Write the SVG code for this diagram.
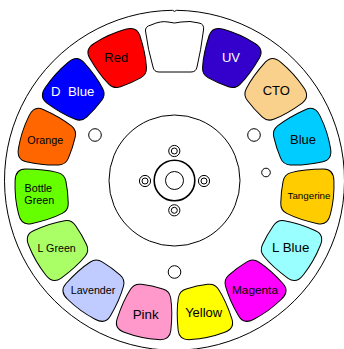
<svg xmlns="http://www.w3.org/2000/svg" width="344" height="349" viewBox="0 0 344 349">
<style>
.l{fill:none;stroke:#000;stroke-width:1}
.h{fill:#fff;stroke:#000;stroke-width:1}
.s{stroke:#000;stroke-width:1}
text{font-family:"Liberation Sans",Arial,sans-serif;text-anchor:middle;fill:#000}
</style>
<defs>
<path id="slot" d="M-17,-158.500 Q0,-161 17,-158.500 Q28.500,-157 27.500,-147 Q25.500,-128 20.500,-115 Q18,-108.500 11,-108 Q0,-107 -11,-108 Q-18,-108.500 -20.500,-115 Q-25.500,-128 -27.500,-147 Q-28.500,-157 -17,-158.500 Z"/>
</defs>
<rect width="344" height="349" fill="#fff"/>
<g id="wheel">
<path class="l" d="M172.500,10.300 A170,170 0 1 0 176.500,10.300 Q174.500,12.500 172.500,10.300 Z"/>
<circle class="l" cx="174.500" cy="180.500" r="65.500"/>
<circle class="l" cx="174.500" cy="180.500" r="9"/>
<circle class="l" cx="174.500" cy="180.500" r="20.300" style="stroke-width:1.600"/>
<g class="l"><circle cx="174.300" cy="151" r="5.600"/><circle cx="174.300" cy="151" r="3"/><circle cx="145" cy="181" r="5.600"/><circle cx="145" cy="181" r="3"/><circle cx="204" cy="181" r="5.600"/><circle cx="204" cy="181" r="3"/><circle cx="174.300" cy="210.300" r="5.600"/><circle cx="174.300" cy="210.300" r="3"/></g>
<circle class="h" cx="95" cy="135" r="6.300"/>
<circle class="h" cx="254" cy="135" r="6.300"/>
<circle class="h" cx="174.500" cy="272" r="6.300"/>
<circle class="h" cx="266" cy="172.500" r="4.300"/>
</g>
<g id="connectors"/>
<g id="open"><path class="h" d="M151,25 Q161,20.500 168,22 Q174.500,24 181,22 Q190,20.500 199,23 Q204.500,24 203.500,30 Q201,50 197,67 Q196,72 191,72 L159,72 Q154,72 153,67 Q148,50 145.500,31 Q145,26.500 151,25 Z"/></g>
<g id="uv"><use href="#slot" transform="translate(174.500,181) rotate(24)" fill="#3300cc" class="s"/><text x="231" y="62" font-size="13" style="fill:#fff">UV</text></g>
<g id="cto"><use href="#slot" transform="translate(174.500,181) rotate(48)" fill="#f9d08c" class="s"/><text x="276.300" y="95" font-size="13">CTO</text></g>
<g id="blue"><use href="#slot" transform="translate(174.500,181) rotate(72)" fill="#00ccff" class="s"/><text x="303" y="143.500" font-size="13">Blue</text></g>
<g id="tangerine"><use href="#slot" transform="translate(174.500,181) rotate(96)" fill="#ffcc00" class="s"/><text x="309" y="199" font-size="9.800">Tangerine</text></g>
<g id="lblue"><use href="#slot" transform="translate(174.500,181) rotate(120)" fill="#99ffff" class="s"/><text x="290.700" y="252" font-size="13.300">L Blue</text></g>
<g id="magenta"><use href="#slot" transform="translate(174.500,181) rotate(144)" fill="#ff00ff" class="s"/><text x="255" y="294.300" font-size="11.800">Magenta</text></g>
<g id="yellow"><use href="#slot" transform="translate(174.500,181) rotate(168)" fill="#ffff00" class="s"/><text x="203.700" y="317.300" font-size="13">Yellow</text></g>
<g id="pink"><use href="#slot" transform="translate(174.500,181) rotate(192)" fill="#ff99cc" class="s"/><text x="145.700" y="319" font-size="13.400">Pink</text></g>
<g id="lavender"><use href="#slot" transform="translate(174.500,181) rotate(216)" fill="#c0ccff" class="s"/><text x="93" y="294.300" font-size="10.700">Lavender</text></g>
<g id="lgreen"><use href="#slot" transform="translate(174.500,181) rotate(240)" fill="#aaff66" class="s"/><text x="56.700" y="252" font-size="10.700">L Green</text></g>
<g id="bottlegreen"><use href="#slot" transform="translate(174.500,181) rotate(264)" fill="#66ff00" class="s"/><text x="38.300" y="192" font-size="10.800">Bottle</text><text x="39.300" y="204" font-size="10.800">Green</text></g>
<g id="orange"><use href="#slot" transform="translate(174.500,181) rotate(288)" fill="#ff6600" class="s"/><text x="45.300" y="144" font-size="10.800">Orange</text></g>
<g id="dblue"><use href="#slot" transform="translate(174.500,181) rotate(312)" fill="#0000ff" class="s"/><text x="72.700" y="96" font-size="13.200" style="fill:#fff;white-space:pre">D  Blue</text></g>
<g id="red"><use href="#slot" transform="translate(174.500,181) rotate(336)" fill="#ff0000" class="s"/><text x="116.300" y="62.300" font-size="13">Red</text></g>
</svg>
